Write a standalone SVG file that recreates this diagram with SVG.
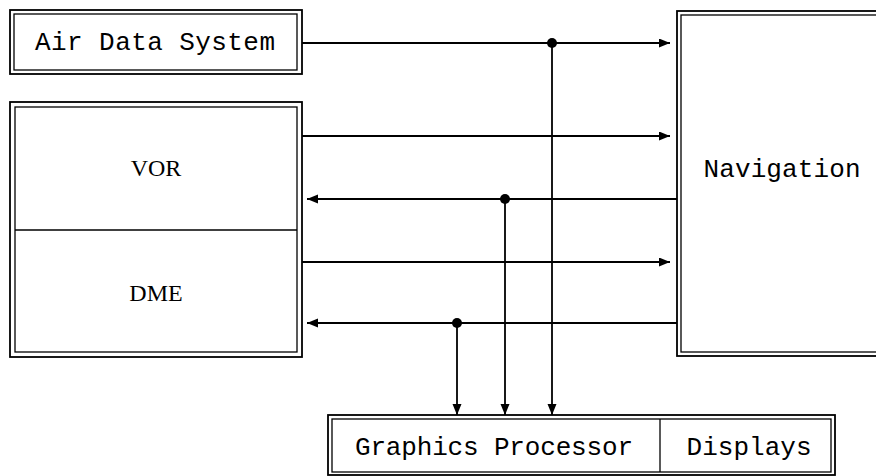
<svg xmlns="http://www.w3.org/2000/svg" width="876" height="476" viewBox="0 0 876 476">
<style>
.o{fill:none;stroke:#000;stroke-width:1.8}
.i{fill:none;stroke:#000;stroke-width:1.3}
.m{font-family:"Liberation Mono",monospace;font-size:26px;fill:#000}
.s{font-family:"Liberation Serif",serif;font-size:24px;fill:#000}
.c{fill:none;stroke:#000;stroke-width:1.8}
.d{fill:#000}
</style>
<defs>
<marker id="ah" markerUnits="userSpaceOnUse" markerWidth="12" markerHeight="10" refX="11" refY="4.5" orient="auto">
<path d="M0,0 L11,4.5 L0,9 Z" fill="#000"/>
</marker>
</defs>
<rect width="876" height="476" fill="#fff"/>
<g id="air-data-system">
<rect class="o" x="10" y="10" width="292" height="64"/>
<rect class="i" x="14" y="14" width="283" height="56"/>
<text class="m" x="155" y="50" text-anchor="middle" textLength="240">Air Data System</text>
</g>
<g id="vor-dme">
<rect class="o" x="10" y="102" width="292" height="255"/>
<rect class="i" x="15" y="107" width="282" height="245"/>
<line class="i" x1="15" y1="230" x2="297" y2="230"/>
<g id="vor"><text class="s" x="156" y="176" text-anchor="middle">VOR</text></g>
<g id="dme"><text class="s" x="156" y="301" text-anchor="middle">DME</text></g>
</g>
<g id="navigation">
<rect class="o" x="677" y="11" width="220" height="345"/>
<rect class="i" x="681" y="15" width="220" height="337"/>
<text class="m" x="782" y="177" text-anchor="middle" textLength="157">Navigation</text>
</g>
<g id="graphics-displays">
<rect class="o" x="328" y="415" width="507" height="60"/>
<rect class="i" x="332" y="419" width="499" height="53"/>
<line class="i" x1="660" y1="419" x2="660" y2="472"/>
<g id="graphics-processor"><text class="m" x="494" y="455" text-anchor="middle" textLength="278">Graphics Processor</text></g>
<g id="displays"><text class="m" x="749" y="455" text-anchor="middle" textLength="125">Displays</text></g>
</g>
<g id="connectors">
<line class="c" x1="302" y1="43" x2="670" y2="43" marker-end="url(#ah)"/>
<line class="c" x1="302" y1="136" x2="670" y2="136" marker-end="url(#ah)"/>
<line class="c" x1="677" y1="199" x2="307" y2="199" marker-end="url(#ah)"/>
<line class="c" x1="302" y1="262" x2="670" y2="262" marker-end="url(#ah)"/>
<line class="c" x1="677" y1="323" x2="307" y2="323" marker-end="url(#ah)"/>
<line class="c" x1="552" y1="43" x2="552" y2="415" marker-end="url(#ah)"/>
<line class="c" x1="505" y1="199" x2="505" y2="415" marker-end="url(#ah)"/>
<line class="c" x1="457" y1="323" x2="457" y2="415" marker-end="url(#ah)"/>
<circle class="d" cx="552" cy="43" r="5"/>
<circle class="d" cx="505" cy="199" r="5"/>
<circle class="d" cx="457" cy="323" r="5"/>
</g>
</svg>
